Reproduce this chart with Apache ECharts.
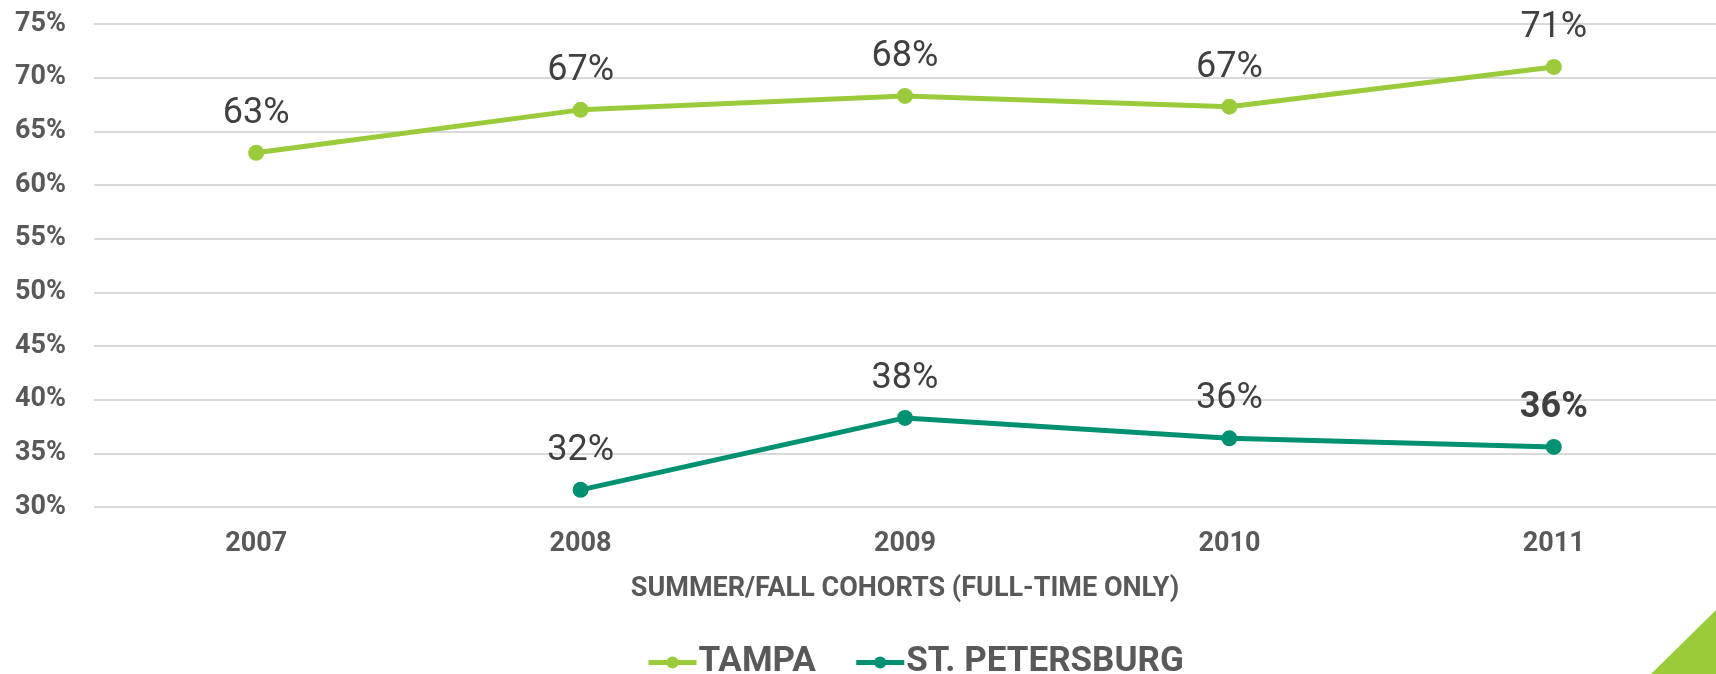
<!DOCTYPE html>
<html>
<head>
<meta charset="utf-8">
<script src="https://cdn.jsdelivr.net/npm/echarts@6/dist/echarts.min.js"></script>
<style>
html,body{margin:0;padding:0;background:#fff;}
#chart{width:1716px;height:674px;}
</style>
</head>
<body>
<div id="chart"></div>
<script>
const categories = ['2007', '2008', '2009', '2010', '2011'];
const tampa = [63.0, 67.0, 68.3, 67.3, 71.0];
const stPetersburg = [null, 31.6, 38.3, 36.4, 35.6];
const seriesNames = ['TAMPA', 'ST. PETERSBURG'];
const xAxisTitle = 'SUMMER/FALL COHORTS (FULL-TIME ONLY)';
const yMin = 30, yMax = 75, yStep = 5;

const FONT = "Roboto, 'Liberation Sans', sans-serif";
const chart = echarts.init(document.getElementById('chart'), null, {renderer: 'canvas'});

const labelBase = {
  show: true,
  position: 'top',
  distance: 13,
  fontFamily: FONT,
  fontSize: 36,
  color: '#404040',
  formatter: p => Math.round(p.value) + '%'
};

const stPeteData = stPetersburg.map((v, i) =>
  i === stPetersburg.length - 1 && v != null ? {value: v, label: {fontWeight: 'bold'}} : v
);

chart.setOption({
  animation: false,
  backgroundColor: '#ffffff',
  textStyle: {fontFamily: FONT},
  grid: {left: 94, right: -8, top: 24, bottom: 167, containLabel: false},
  xAxis: {
    type: 'category',
    data: categories,
    boundaryGap: true,
    axisLine: {show: false},
    axisTick: {show: false},
    axisLabel: {fontFamily: FONT, fontSize: 27, fontWeight: 'bold', color: '#595959', margin: 24},
    name: xAxisTitle,
    nameLocation: 'middle',
    nameGap: 69,
    nameTextStyle: {fontFamily: FONT, fontSize: 27, fontWeight: 'bold', color: '#595959'}
  },
  yAxis: {
    type: 'value',
    min: yMin, max: yMax, interval: yStep,
    axisLine: {show: false},
    axisTick: {show: false},
    splitLine: {lineStyle: {color: '#d9d9d9', width: 2}},
    axisLabel: {fontFamily: FONT, fontSize: 27, fontWeight: 'bold', color: '#595959', margin: 28, formatter: '{value}%'}
  },
  legend: {
    data: seriesNames,
    left: 641,
    top: 640,
    itemWidth: 48,
    itemHeight: 15,
    itemGap: 38,
    lineStyle: {width: 5},
    textStyle: {fontFamily: FONT, fontSize: 35, fontWeight: 'bold', color: '#595959', padding: [0, 0, 0, -3]}
  },
  series: [
    {
      name: seriesNames[0], type: 'line', data: tampa,
      symbol: 'circle', symbolSize: 16,
      lineStyle: {color: '#9acb3b', width: 5},
      itemStyle: {color: '#9acb3b'},
      label: labelBase
    },
    {
      name: seriesNames[1], type: 'line', data: stPeteData,
      symbol: 'circle', symbolSize: 16,
      lineStyle: {color: '#009172', width: 5},
      itemStyle: {color: '#009172'},
      label: labelBase
    }
  ],
  graphic: [{
    type: 'polygon',
    shape: {points: [[1716, 610], [1716, 674], [1651, 674]]},
    style: {fill: '#9acb3b'},
    silent: true
  }]
});
</script>
</body>
</html>
